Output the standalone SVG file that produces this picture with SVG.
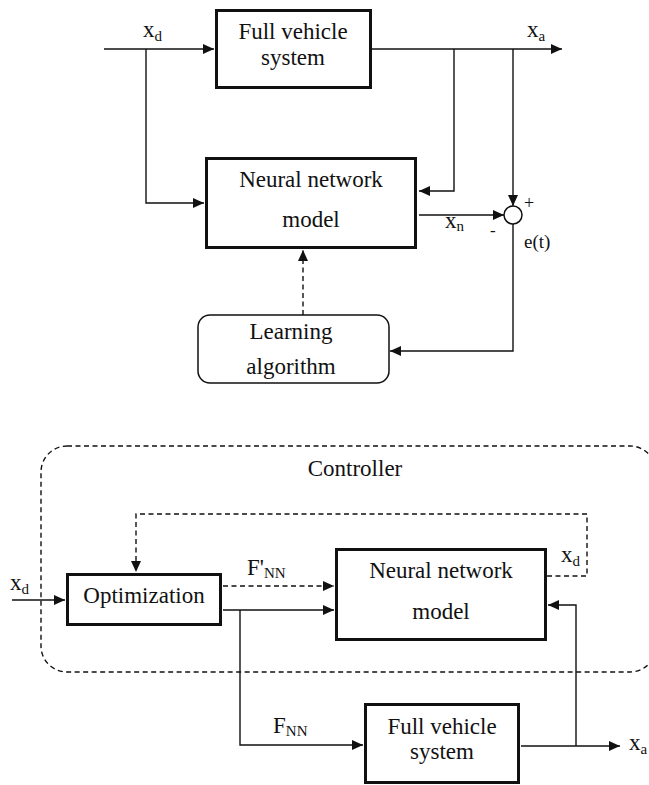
<svg xmlns="http://www.w3.org/2000/svg" width="649" height="785" viewBox="0 0 649 785">
<defs>
<marker id="ah" markerUnits="userSpaceOnUse" markerWidth="12" markerHeight="11" refX="11" refY="5" orient="auto">
<path d="M0,0 L11,5 L0,10 z" fill="#111"/>
</marker>
<style>
text{font-size:23px;fill:#111}
.c{text-anchor:middle}
.s{font-size:15px}
.box{fill:#fff;stroke:#111;stroke-width:3}
.rbox{fill:#fff;stroke:#111;stroke-width:1.5}
.ln{fill:none;stroke:#111;stroke-width:1.4}
.ar{marker-end:url(#ah)}
.da{stroke-dasharray:5,3.5}
</style>
</defs>
<rect width="649" height="785" fill="#fff"/>

<g id="connectors">
<path class="ln ar" d="M104,49 H214"/>
<path class="ln ar" d="M146,49 V203 H204"/>
<path class="ln ar" d="M372,49 H562"/>
<path class="ln ar" d="M454,49 V191 H419"/>
<path class="ln ar" d="M513,49 V206"/>
<path class="ln ar" d="M419,215 H504"/>
<path class="ln ar" d="M513,224 V351 H390"/>
<path class="ln ar da" d="M303,315 V250"/>

<path class="ln ar" d="M12,600 H65"/>
<path class="ln ar da" d="M547,576 H587 V514 H136 V572"/>
<path class="ln ar da" d="M223,586 H334"/>
<path class="ln ar" d="M223,610 H334"/>
<path class="ln ar" d="M240,610 V745 H363"/>
<path class="ln ar" d="M521,746 H620"/>
<path class="ln ar" d="M576,746 V605 H548"/>
</g>

<g font-family="'Liberation Serif', 'Times New Roman', 'DejaVu Serif', serif">
<g id="controller">
<rect x="41" y="446" width="615" height="226" rx="26" ry="26" class="ln da"/>
<text class="c" x="355" y="476">Controller</text>
</g>

<g id="full-vehicle-top">
<rect class="box" x="216.5" y="10.5" width="154" height="77"/>
<text class="c" x="293" y="39">Full vehicle</text>
<text class="c" x="293" y="65">system</text>
</g>

<g id="nn-top">
<rect class="box" x="206.5" y="158.5" width="209" height="89"/>
<text class="c" x="311" y="187">Neural network</text>
<text class="c" x="311" y="227">model</text>
</g>

<g id="sum">
<circle cx="513" cy="215" r="9" fill="#fff" stroke="#111" stroke-width="1.5"/>
<text x="524" y="209" style="font-size:18px">+</text>
<text x="490" y="236" style="font-size:17px">-</text>
</g>

<g id="learning">
<rect class="rbox" x="198" y="315" width="191" height="68" rx="12" ry="12"/>
<text class="c" x="291" y="339">Learning</text>
<text class="c" x="291" y="374">algorithm</text>
</g>

<g id="optimization">
<rect class="box" x="67.5" y="574.5" width="153" height="50"/>
<text class="c" x="144" y="603">Optimization</text>
</g>

<g id="nn-bottom">
<rect class="box" x="336.5" y="549.5" width="209" height="90"/>
<text class="c" x="441" y="578">Neural network</text>
<text class="c" x="441" y="619">model</text>
</g>

<g id="full-vehicle-bottom">
<rect class="box" x="365.5" y="704.5" width="153" height="78"/>
<text class="c" x="442" y="734">Full vehicle</text>
<text class="c" x="442" y="759">system</text>
</g>

<g id="labels">
<text x="143" y="37">x<tspan class="s" dy="4">d</tspan></text>
<text x="527" y="37">x<tspan class="s" dy="4">a</tspan></text>
<text x="445" y="228">x<tspan class="s" dy="3">n</tspan></text>
<text x="524" y="248" style="font-size:19px">e(t)</text>
<text x="10" y="590">x<tspan class="s" dy="4">d</tspan></text>
<text x="561" y="562">x<tspan class="s" dy="4">d</tspan></text>
<text x="247" y="575">F'<tspan class="s" dy="3">NN</tspan></text>
<text x="273" y="733">F<tspan class="s" dy="3">NN</tspan></text>
<text x="629" y="750">x<tspan class="s" dy="4">a</tspan></text>
</g>
</g>
</svg>
